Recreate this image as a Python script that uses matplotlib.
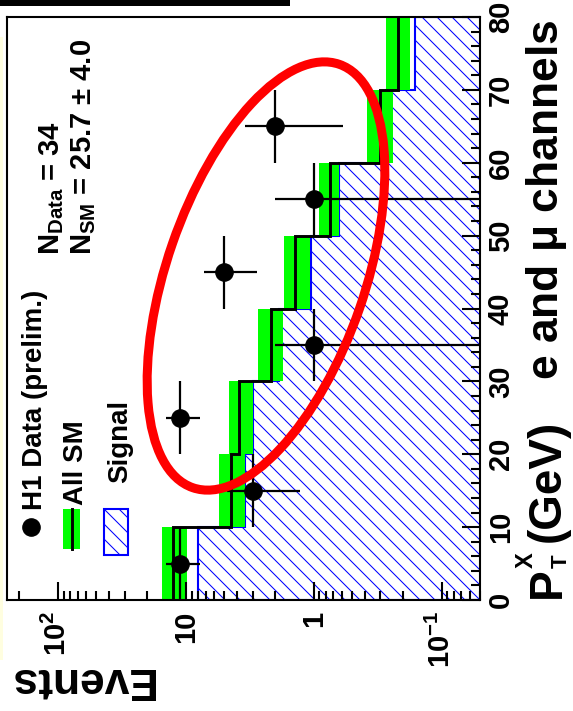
import numpy as np
import matplotlib.pyplot as plt
from matplotlib.patches import Ellipse, Rectangle
from matplotlib.lines import Line2D
from matplotlib.ticker import LogLocator, MultipleLocator, NullFormatter

plt.rcParams['font.family'] = ['Liberation Sans', 'DejaVu Sans']
plt.rcParams['font.weight'] = 'bold'
plt.rcParams['mathtext.fontset'] = 'custom'
plt.rcParams['mathtext.rm'] = 'Liberation Sans:bold'
plt.rcParams['mathtext.bf'] = 'Liberation Sans:bold'
plt.rcParams['mathtext.it'] = 'Liberation Sans:bold:italic'
plt.rcParams['mathtext.sf'] = 'Liberation Sans'

# P_T^X bins (GeV) and events per bin
pt_edges = np.arange(0, 90, 10)
n_data = np.array([11, 3, 11, 1, 5, 1, 2, 0])
sm_total = [12.6, 4.45, 3.8, 2.17, 1.41, 0.74, 0.305, 0.22]
sm_hi = [15.4, 5.5, 4.6, 2.7, 1.72, 0.91, 0.38, 0.27]
sm_lo = [9.8, 3.46, 3.0, 1.75, 1.07, 0.63, 0.24, 0.175]
signal = [8.05, 3.46, 3.0, 1.88, 1.04, 0.63, 0.27, 0.16]

event_ticks = [100, 10, 1, 0.1]
event_labels = [r'$10^{2}$', '10', '1', r'$10^{-1}$']

W, H = 573, 711
DPI = 90          # 90 dpi gives the hatch spacing of the original
S = 100 / DPI     # sizes below were tuned in "points at 100 dpi"

plt.rcParams['hatch.linewidth'] = 0.75 * S


def fx(px):
    return px / W


def fy(py):
    return 1 - py / H


def vtext(x, y, s, size, ha='left'):
    # text rotated like the rest of the (sideways) plot
    fig.text(fx(x), fy(y), s, rotation=90, rotation_mode='anchor',
             ha=ha, va='baseline', fontsize=size * S, fontweight='bold')


fig = plt.figure(figsize=(W / DPI, H / DPI), dpi=DPI)
ax = fig.add_axes([fx(7), fy(600), (480 - 7) / W, (600 - 17) / H])

# Signal (hatched), SM band, SM line
ax.stairs(signal, pt_edges, orientation='horizontal', baseline=1e-3, fill=True,
          facecolor='white', edgecolor='#0000ff', hatch='\\\\', lw=1.5 * S, zorder=1)
ax.stairs(sm_hi, pt_edges, orientation='horizontal', baseline=sm_lo, fill=True,
          facecolor='#00ff00', edgecolor='none', lw=0, zorder=1.2)
ax.stairs(sm_total, pt_edges, orientation='horizontal', baseline=None,
          color='black', lw=2.1 * S, zorder=2)

# Data points with sqrt(N) errors
centers = (pt_edges[:-1] + pt_edges[1:]) / 2
has = n_data > 0
xd = n_data[has].astype(float)
yd = centers[has]
err = np.sqrt(xd)
err_lo = np.where(xd - err > 0, err, xd * 0.999999)
ax.errorbar(xd, yd, xerr=[err_lo, err], yerr=5, fmt='o', color='black', ms=12.5 * S,
            elinewidth=1.6 * S, capsize=0, zorder=5)

ax.set_xscale('log')
ax.set_xlim(250, 0.05)
ax.set_ylim(0, 80)
ax.set_xticks(event_ticks, labels=event_labels)
ax.xaxis.set_minor_locator(LogLocator(base=10, subs=np.arange(2, 10), numticks=20))
ax.xaxis.set_minor_formatter(NullFormatter())
ax.yaxis.tick_right()
ax.set_yticks(np.arange(0, 90, 10))
ax.yaxis.set_minor_locator(MultipleLocator(2))
ax.set_axisbelow(False)

ax.tick_params(which='both', direction='in', width=1.5 * S, labelsize=21 * S)
ax.tick_params(which='major', length=13 * S)
ax.tick_params(which='minor', length=6.5 * S)
ax.tick_params(axis='x', which='both', bottom=True, top=False, pad=8 * S, labelrotation=90)
ax.tick_params(axis='y', which='both', left=False, right=True,
               labelleft=False, labelright=True, pad=5 * S, labelrotation=90)
for lab in ax.get_yticklabels():
    lab.set_va('center')
for sp in ax.spines.values():
    sp.set_linewidth(1.5 * S)

# Axis titles
fig.text(fx(80), fy(668), 'Events', rotation=180, rotation_mode='anchor',
         ha='center', va='baseline', fontsize=32 * S, fontweight='bold')
vtext(560, 598, 'P', 33)
vtext(533, 568, 'X', 17)
vtext(567, 568, 'T', 16)
vtext(560, 542, '(GeV)', 33)
vtext(558, 20, r'e and $\mathsf{\mu}$ channels', 32, ha='right')

# Legend
fig.add_artist(Line2D([fx(31)], [fy(527)], marker='o', ms=12.5 * S, color='black', ls=''))
vtext(42, 510, 'H1 Data (prelim.)', 20)
fig.add_artist(Rectangle((fx(63), fy(549)), (80 - 63) / W, (549 - 509) / H,
                         facecolor='#00ff00', edgecolor='none'))
fig.add_artist(Line2D([fx(72), fx(72)], [fy(549), fy(509)], color='black', lw=2.1 * S))
vtext(83, 505, 'All SM', 20)
fig.add_artist(Rectangle((fx(104), fy(555)), 24 / W, 46 / H, facecolor='white',
                         edgecolor='#0000ff', hatch='\\\\', lw=1.5 * S))
vtext(127, 483, 'Signal', 20)

# Event counts
vtext(59, 255, r'$\mathrm{N_{Data}}$ = 34', 21)
vtext(91, 255, r'$\mathrm{N_{SM}}$ = 25.7 $\mathsf{\pm}$ 4.0', 21)

# Red ellipse highlight
fig.add_artist(Ellipse((266 / DPI, (H - 276) / DPI), 448 / DPI, 198 / DPI, angle=70.9,
                       transform=fig.dpi_scale_trans, fill=False, edgecolor='red',
                       lw=6.5 * S, zorder=10))

# Page leftovers around the cropped plot
fig.add_artist(Rectangle((0, fy(660)), 3 / W, (660 - 37) / H, facecolor='#fffee0',
                         edgecolor='none'))
fig.add_artist(Rectangle((0, fy(6)), 290 / W, 6 / H, facecolor='black', edgecolor='none'))

fig.savefig('out.png', dpi=DPI)
